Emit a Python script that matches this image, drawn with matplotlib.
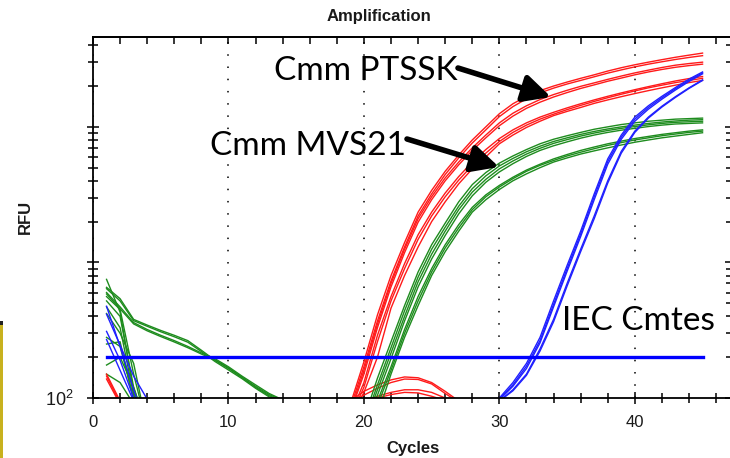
import matplotlib
matplotlib.use("Agg")
import matplotlib.pyplot as plt
import matplotlib.ticker as mticker
from matplotlib.patches import Rectangle, FancyArrowPatch
import numpy as np

plt.rcParams['mathtext.fontset'] = 'custom'
plt.rcParams['mathtext.rm'] = 'Liberation Sans'

W, H = 730, 458

# threshold line
threshold = 200
threshold_cycles = [1, 45]

# Cmm PTSSK wells (red), cycles 19..45
red_start = 19
red_wells = [
    [90, 185, 410, 800, 1400, 2350, 3400, 4700, 6200, 8000, 10000, 12500, 14800, 16800, 18500, 20000, 21400, 22800, 24200, 25800, 27300, 28700, 30000, 31300, 32600, 33800, 35000],
    [85, 170, 370, 730, 1300, 2200, 3200, 4450, 5900, 7600, 9500, 11900, 14100, 16100, 17800, 19300, 20700, 22000, 23400, 24900, 26300, 27700, 29000, 30200, 31400, 32500, 33500],
    [80, 160, 350, 700, 1250, 2100, 3050, 4200, 5500, 7000, 8700, 10700, 12600, 14300, 15900, 17300, 18600, 19900, 21100, 22400, 23700, 25000, 26200, 27400, 28500, 29300, 30000],
    [78, 150, 330, 660, 1180, 1980, 2900, 4000, 5250, 6700, 8300, 10200, 12000, 13700, 15200, 16600, 17900, 19200, 20400, 21700, 22900, 24200, 25400, 26500, 27500, 28300, 29000],
    [75, 130, 290, 560, 980, 1600, 2350, 3250, 4300, 5500, 6800, 8200, 9500, 10700, 11800, 12800, 13800, 14800, 15800, 16800, 17800, 18800, 19800, 20800, 21800, 22700, 23500],
    [72, 120, 260, 520, 900, 1480, 2200, 3050, 4050, 5200, 6400, 7800, 9100, 10300, 11400, 12400, 13400, 14400, 15400, 16400, 17400, 18400, 19400, 20300, 21200, 22000, 22800],
    [70, 110, 200, 460, 800, 1300, 2000, 2800, 3800, 4900, 6000, 7500, 8700, 9900, 11000, 12100, 13000, 13900, 14900, 15800, 16700, 17600, 18500, 19400, 20300, 21200, 22000],
]
# red wells that did not amplify (small humps)
red_hump_starts = [19, 19, 20, 20]
red_humps = [
    [95, 112, 125, 136, 143, 141, 130, 112, 95],
    [92, 105, 118, 130, 138, 137, 127, 108, 93],
    [95, 103, 110, 115, 115, 110, 100, 92],
    [93, 100, 106, 110, 109, 103, 96],
]
red_early = [
    [150, 95, 60],
    [138, 90, 60],
    [145, 92, 60],
]

# Cmm MVS21 wells (green), cycles 20..45
green_start = 20
green_wells = [
    [70, 140, 260, 480, 850, 1350, 1950, 2800, 3750, 4600, 5400, 6100, 6800, 7500, 8100, 8600, 9100, 9600, 10000, 10400, 10700, 11000, 11200, 11400, 11500, 11600],
    [65, 125, 235, 440, 780, 1250, 1820, 2600, 3500, 4350, 5150, 5850, 6550, 7200, 7800, 8300, 8800, 9250, 9650, 10000, 10300, 10600, 10850, 11050, 11200, 11300],
    [62, 115, 215, 400, 720, 1150, 1700, 2450, 3300, 4100, 4900, 5600, 6300, 6950, 7550, 8050, 8550, 9000, 9400, 9750, 10050, 10350, 10600, 10800, 10900, 11000],
    [60, 105, 195, 370, 660, 1060, 1580, 2280, 3100, 3900, 4650, 5350, 6050, 6700, 7250, 7750, 8250, 8700, 9100, 9450, 9750, 10050, 10300, 10500, 10600, 10700],
    [58, 95, 170, 320, 560, 900, 1350, 1900, 2550, 3150, 3700, 4250, 4800, 5300, 5800, 6250, 6700, 7100, 7500, 7850, 8200, 8500, 8800, 9050, 9300, 9500],
    [56, 88, 160, 300, 520, 850, 1280, 1800, 2450, 3050, 3600, 4150, 4700, 5200, 5650, 6100, 6500, 6900, 7300, 7650, 8000, 8300, 8600, 8850, 9100, 9300],
    [50, 75, 150, 280, 480, 800, 1200, 1700, 2350, 2900, 3450, 4000, 4500, 5000, 5500, 5900, 6300, 6650, 7000, 7350, 7700, 8000, 8300, 8550, 8800, 9050],
]
green_early = [
    [750, 430, 110, 60],
    [560, 450, 150, 60],
    [520, 400, 120, 60],
    [470, 330, 105, 60],
    [420, 300, 180, 60],
    [280, 240, 100, 60],
    [250, 260, 95, 60],
    [175, 200, 120, 60],
    [150, 130, 90, 60],
]
green_tails = [
    [655, 540, 380, 345, 315, 290, 265, 225, 190, 165, 142, 120, 104, 95],
    [640, 520, 372, 338, 308, 283, 258, 220, 186, 161, 139, 118, 102, 94],
    [600, 470, 360, 320, 290, 265, 240, 215, 195, 170, 145, 125, 108, 97],
    [585, 455, 352, 313, 284, 259, 235, 211, 191, 167, 142, 122, 106, 96],
]

# IEC Cmtes wells (blue), cycles 30..45
blue_start = 30
blue_wells = [
    [100, 130, 180, 280, 520, 950, 1700, 3200, 5800, 8700, 11800, 14300, 16800, 19500, 22500, 25400],
    [98, 125, 172, 265, 490, 900, 1620, 3050, 5550, 8400, 11400, 13900, 16400, 19100, 22000, 25000],
    [97, 122, 165, 255, 470, 860, 1550, 2900, 5300, 8100, 11000, 13500, 16000, 18700, 21600, 24600],
    [95, 115, 150, 230, 380, 700, 1250, 2200, 4000, 6600, 9300, 11800, 14200, 16700, 19400, 22200],
    [95, 113, 147, 222, 365, 670, 1200, 2100, 3850, 6400, 9100, 11600, 14000, 16500, 19200, 22000],
]
blue_early = [
    [475, 240, 115, 60],
    [415, 245, 145, 98, 60],
    [310, 190, 100, 60],
    [270, 160, 95, 60],
]

RED, GREEN, BLUE = '#ff1a1a', '#1e8c1e', '#2020ff'
TXT = '#1a1a1a'


def fp(x, y):
    return x / W, 1 - y / H


fig = plt.figure(figsize=(W / 100, H / 100), dpi=100)
ax = fig.add_axes([93 / W, 1 - 398 / H, (731 - 93) / W, (398 - 37) / H])


def draw(ax, start, wells, color):
    for v in wells:
        ax.plot(np.arange(start, start + len(v)), v, color=color, lw=1.0)


draw(ax, 1, green_early, GREEN)
draw(ax, 1, green_tails, GREEN)
draw(ax, 1, blue_early, BLUE)
draw(ax, 1, red_early, RED)
for s, v in zip(red_hump_starts, red_humps):
    ax.plot(np.arange(s, s + len(v)), v, color=RED, lw=1.0)
draw(ax, green_start, green_wells, GREEN)
draw(ax, red_start, red_wells, RED)
draw(ax, blue_start, blue_wells, BLUE)
ax.plot(threshold_cycles, [threshold, threshold], color='#0000ff', lw=2.4)

ax.set_yscale('log')
ax.set_ylim(100, 46000)
ax.set_xlim(0, 47.1)
ax.xaxis.set_major_locator(mticker.MultipleLocator(10))
ax.xaxis.set_minor_locator(mticker.MultipleLocator(2))
ax.yaxis.set_major_locator(mticker.LogLocator(base=10))
ax.yaxis.set_minor_locator(mticker.LogLocator(base=10, subs=np.arange(2, 10)))
ax.yaxis.set_major_formatter(mticker.FuncFormatter(
    lambda v, p: r'$\mathregular{10^2}$' if abs(v - 100) < 1 else ''))
ax.yaxis.set_minor_formatter(mticker.NullFormatter())

ax.grid(axis='x', which='major', color='black', linestyle=(0, (1, 7)), lw=1.1)
for s in ax.spines.values():
    s.set_linewidth(1.3)
    s.set_color('black')
ax.tick_params(axis='both', which='both', direction='inout', top=False, right=True,
               width=1.1, colors='black', labelcolor=TXT)
ax.tick_params(axis='x', which='major', length=9, labelsize=12, pad=8)
ax.tick_params(axis='x', which='minor', length=7)
ax.tick_params(axis='y', which='major', length=8, labelsize=13, pad=10)
ax.tick_params(axis='y', which='minor', length=7)
for lab in ax.get_xticklabels() + ax.get_yticklabels():
    lab.set_fontfamily('Liberation Sans')

# top ticks point inward only
top = ax.secondary_xaxis('top')
top.xaxis.set_major_locator(mticker.MultipleLocator(10))
top.xaxis.set_minor_locator(mticker.MultipleLocator(2))
top.tick_params(which='both', direction='in', length=5, width=1.1, labeltop=False)
top.spines['top'].set_linewidth(1.3)

fig.text(*fp(379, 17), 'Amplification', ha='center', va='center', fontsize=12,
         fontweight='bold', family='Liberation Sans', color=TXT)
fig.text(*fp(413, 449), 'Cycles', ha='center', va='center', fontsize=12,
         fontweight='bold', family='Liberation Sans', color=TXT)
fig.text(*fp(25, 217), 'RFU', ha='center', va='center', rotation=90, fontsize=12,
         fontweight='bold', family='Liberation Sans', color=TXT)

big = dict(fontsize=24, family='Lato', color='black', va='baseline', ha='left')
fig.text(*fp(274, 80), 'Cmm PTSSK', **big)
fig.text(*fp(210, 155), 'Cmm MVS21', **big)
fig.text(*fp(562, 330), 'IEC Cmtes', **big)

arrow = dict(arrowstyle='-|>,head_width=0.45,head_length=0.9', color='black',
             lw=4, mutation_scale=18, shrinkA=0, shrinkB=0)
fig.add_artist(FancyArrowPatch(fp(458, 68), fp(551, 97),
                               transform=fig.transFigure, **arrow))
fig.add_artist(FancyArrowPatch(fp(407, 139), fp(499, 167),
                               transform=fig.transFigure, **arrow))

# slide remnant at the lower left edge
fig.add_artist(Rectangle(fp(0, 458), 3 / W, 136 / H, transform=fig.transFigure,
                         color='#c8b11e', lw=0))
fig.add_artist(Rectangle(fp(0, 325), 3 / W, 4 / H, transform=fig.transFigure,
                         color='#222222', lw=0))

fig.savefig('out.png', dpi=100)
